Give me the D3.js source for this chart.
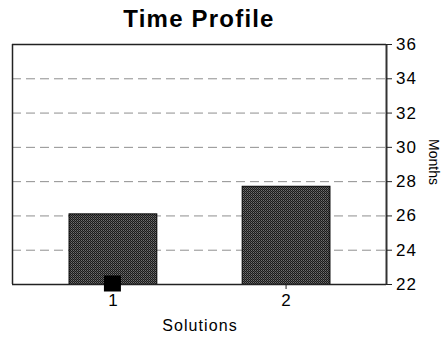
<!DOCTYPE html>
<html><head><meta charset="utf-8">
<script src="https://cdn.jsdelivr.net/npm/d3@7"></script>
<style>body{margin:0;background:#fff}svg{display:block}text{font-family:"Liberation Sans",Arial,sans-serif}</style>
</head><body>
<script>
const categories = ["1", "2"];
const timeValues = [26.12, 27.73];
const markerValues = [22, null];
const yTicks = [22, 24, 26, 28, 30, 32, 34, 36];
const title = "Time Profile";
const xTitle = "Solutions";
const yTitle = "Months";

const W = 445, H = 337;
const m = {left: 12, right: 386, top: 44, bottom: 284};
const svg = d3.select("body").append("svg").attr("width", W).attr("height", H);

const defs = svg.append("defs");
const pat = defs.append("pattern").attr("id", "dots").attr("patternUnits", "userSpaceOnUse")
  .attr("width", 2).attr("height", 2);
pat.append("rect").attr("width", 2).attr("height", 2).attr("fill", "#1a1a1a");
pat.append("rect").attr("x", 1).attr("y", 0).attr("width", 1).attr("height", 1).attr("fill", "#707070");
pat.append("rect").attr("x", 0).attr("y", 1).attr("width", 1).attr("height", 1).attr("fill", "#505050");

const x = d3.scalePoint().domain(categories).range([m.left, m.right]).padding(0.58);
const y = d3.scaleLinear().domain([22, 36]).range([m.bottom, m.top]);
const barW = x.step() * 0.507;

// gridlines
svg.append("g").selectAll("line").data(yTicks.filter(t => t > 22 && t < 36)).join("line")
  .attr("x1", m.left).attr("x2", m.right).attr("y1", d => y(d) + 0.5).attr("y2", d => y(d) + 0.5)
  .attr("stroke", "#8f8f8f").attr("stroke-dasharray", "9,5");

// frame
svg.append("line").attr("x1", m.left + 0.5).attr("x2", m.left + 0.5).attr("y1", m.top).attr("y2", m.bottom)
  .attr("stroke", "#222").attr("stroke-width", 1.5);
svg.append("line").attr("x1", m.left).attr("x2", m.right).attr("y1", m.top + 0.5).attr("y2", m.top + 0.5)
  .attr("stroke", "#222").attr("stroke-width", 1.5);

// bars
svg.append("g").selectAll("rect").data(timeValues).join("rect")
  .attr("x", (d, i) => x(categories[i]) - barW / 2 + 0.5)
  .attr("y", d => y(d) + 0.5)
  .attr("width", barW)
  .attr("height", d => y(22) - y(d))
  .attr("fill", "url(#dots)").attr("stroke", "#000").attr("stroke-width", 1);

// x axis
const xAxis = svg.append("g").attr("transform", `translate(0,${m.bottom})`)
  .call(d3.axisBottom(x).tickSize(5).tickSizeOuter(0));
xAxis.select(".domain").attr("stroke", "#222").attr("stroke-width", 1.5).attr("d", `M${m.left},0.5H${m.right}`);
xAxis.selectAll(".tick line").attr("stroke", "#222");
xAxis.selectAll(".tick text").attr("font-size", 17).attr("fill", "#000").attr("dy", "0.75em").attr("y", 9);

// y axis right
const yAxis = svg.append("g").attr("transform", `translate(${m.right},0)`)
  .call(d3.axisRight(y).tickValues(yTicks).tickSize(6).tickSizeOuter(0).tickFormat(d3.format("d")));
yAxis.select(".domain").attr("stroke", "#333").attr("stroke-width", 2);
yAxis.selectAll(".tick line").attr("stroke", "#222");
yAxis.selectAll(".tick text").attr("font-size", 17).attr("fill", "#000").attr("x", 10)
  .attr("letter-spacing", 1);

// marker series
svg.append("g").selectAll("rect").data(markerValues.map((v, i) => ({v, c: categories[i]})).filter(d => d.v != null)).join("rect")
  .attr("x", d => x(d.c) - 8.5).attr("y", d => y(d.v) - 8.5).attr("width", 17).attr("height", 16)
  .attr("fill", "#000");

// titles
svg.append("text").attr("x", 199).attr("y", 27).attr("text-anchor", "middle")
  .attr("font-size", 24).attr("font-weight", "bold").attr("letter-spacing", 1.2).attr("fill", "#000").text(title);
svg.append("text").attr("x", 200).attr("y", 331).attr("text-anchor", "middle")
  .attr("font-size", 16).attr("letter-spacing", 1.1).attr("fill", "#000").text(xTitle);
svg.append("text").attr("transform", "translate(429,162) rotate(90)").attr("text-anchor", "middle")
  .attr("font-size", 14).attr("fill", "#000").text(yTitle);
</script>
</body></html>
